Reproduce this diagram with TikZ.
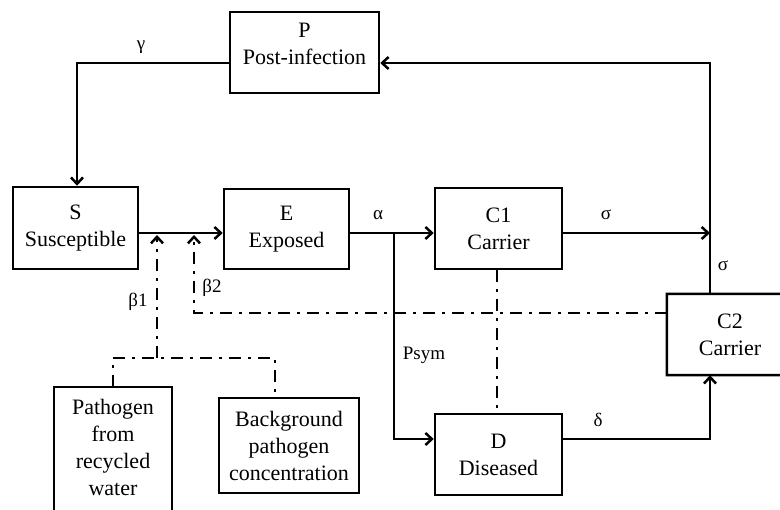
\documentclass[tikz,border=0pt]{standalone}
\usepackage{fontspec}
\setmainfont{Liberation Serif}
\usetikzlibrary{arrows.meta}
\begin{document}
\begin{tikzpicture}[x=1pt,y=-1pt,
  box/.style={draw,line width=2.5pt,align=center,inner sep=0pt,font=\fontsize{22}{27}\selectfont},
  txt/.style={align=center,inner sep=0pt,font=\fontsize{22}{27}\selectfont},
  lbl/.style={inner sep=0pt,font=\fontsize{19}{22}\selectfont},
  tip/.style={-{Straight Barb[length=6.5pt,width=12pt,line width=2.5pt]}},
  arr/.style={line width=2.5pt,tip},
  ln/.style={line width=2.5pt,line join=miter},
  dd/.style={line width=2.5pt,dash pattern=on 12pt off 7pt on 3pt off 7pt}]
\useasboundingbox (0,0) rectangle (780,510);
% boxes
\node[box,minimum width=149pt,minimum height=81pt] (P) at (304.5,52.5) {};
\node[txt] (Ptxt) at (304.5,43.5) {P\\Post-infection};
\node[box,minimum width=125pt,minimum height=82pt] (S) at (75.5,228) {S\\Susceptible};
\node[box,minimum width=125pt,minimum height=80pt] (E) at (286.5,229) {E\\Exposed};
\node[box,minimum width=127pt,minimum height=81pt] (C1) at (498.5,228.5) {C1\\Carrier};
\node[box,minimum width=127pt,minimum height=81pt] (D) at (498.5,454.5) {D\\Diseased};
\node[txt,minimum width=126pt,minimum height=81pt] (C2) at (730,334.5) {C2\\Carrier};
\draw[ln] (790,294) -- (C2.north west) -- (C2.south west) -- (790,375);
\node[txt,minimum width=118pt,minimum height=121pt] (W) at (113,447.5) {Pathogen\\from\\recycled\\water};
\draw[ln] (W.west|-0,520) -- (W.north west) -- (W.north east) -- (W.east|-0,520);
\node[box,minimum width=140pt,minimum height=95pt] (B) at (289,445.5) {Background\\pathogen\\concentration};
% junction coordinates
\coordinate (gl) at (77,63);
\coordinate (cr) at (710,63);
\coordinate (sig) at (710,233);
\coordinate (del) at (710,439);
\coordinate (a1) at (394,233);
\coordinate (a2) at (394,439);
\coordinate (b1) at (157,233);
\coordinate (b1d) at (157,358);
\coordinate (b2) at (194,233);
\coordinate (b2d) at (194,313);
\coordinate (bb) at (275,358);
% solid connectors
\draw[arr] (P.west|-gl) -- (gl) -- (gl|-S.north);
\draw[arr] (C2.north-|cr) -- (cr) -- (P.east|-cr);
\draw[arr] (S.east|-b1) -- (E.west|-b1);
\draw[arr] (E.east|-a1) -- (C1.west|-a1);
\draw[arr] (a1) -- (a2) -- (D.west|-a2);
\draw[arr] (C1.east|-sig) -- (sig);
\draw[arr] (D.east|-del) -- (del) -- (del|-C2.south);
% dash-dot connectors
\draw[dd] (W.north) -- (W.north|-b1d) -- (bb) -- (bb|-B.north);
\draw[dd,tip] (b1d) -- ([yshift=-2pt]b1);
\draw[dd,tip] (C2.west|-b2d) -- (b2d) -- ([yshift=-2pt]b2);
\draw[dd] (C1.south-|497,0) -- (D.north-|497,0);
% labels
\node[lbl] (lg) at (141,47) {γ};
\node[lbl] (la) at (378,215) {α};
\node[lbl] (ls1) at (606,215) {σ};
\node[lbl] (ls2) at (723,266) {σ};
\node[lbl] (lb1) at (138,302) {β1};
\node[lbl] (lb2) at (212,288) {β2};
\node[lbl] (lp) at (424,355) {Psym};
\node[lbl] (ld) at (598,420) {δ};
\end{tikzpicture}
\end{document}
